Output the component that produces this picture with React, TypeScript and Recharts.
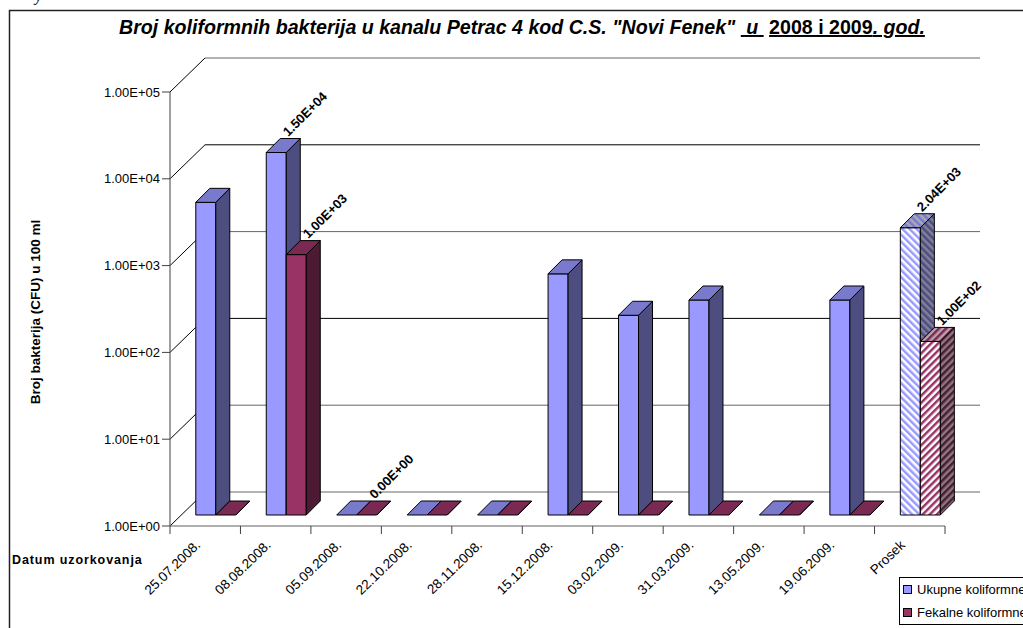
import { Bar, BarChart, CartesianGrid, LabelList, Legend, XAxis, YAxis } from "recharts";

const dates = [
  "25.07.2008.",
  "08.08.2008.",
  "05.09.2008.",
  "22.10.2008.",
  "28.11.2008.",
  "15.12.2008.",
  "03.02.2009.",
  "31.03.2009.",
  "13.05.2009.",
  "19.06.2009.",
  "Prosek",
];
const ukupne = [4000, 15000, 0, 0, 0, 600, 200, 300, 0, 300, 2040];
const fekalne = [0, 1000, 0, 0, 0, 0, 0, 0, 0, 0, 100];
const ukupneLabels = ["", "1.50E+04", "", "", "", "", "", "", "", "", "2.04E+03"];
const fekalneLabels = ["", "1.00E+03", "0.00E+00", "", "", "", "", "", "", "", "1.00E+02"];
const yTicks = [1, 10, 100, 1000, 10000, 100000];

const FONT = "'Liberation Sans', Arial, sans-serif";
const WIDTH = 1023;
const HEIGHT = 628;
const PLOT_LEFT = 170;
const PLOT_RIGHT = 945;

// fake 3D: wall depth and bar depth, bars sit half way into the floor
const WALL_DX = 35;
const WALL_DY = -34;
const BAR_OX = 11;
const BAR_OY = -11;
const BAR_DX = 14;
const BAR_DY = -14;

// log axis can't show 0, so zero samples are drawn flat on the floor
const tableData = dates.map((date, i) => ({
  date,
  ukupne: Math.max(ukupne[i], 1),
  fekalne: Math.max(fekalne[i], 1),
  ukupneLabel: ukupneLabels[i],
  fekalneLabel: fekalneLabels[i],
}));

function formatSci(value: number) {
  const exp = Math.round(Math.log10(value));
  return `1.00E+${String(exp).padStart(2, "0")}`;
}

const BLUE = { front: "#9999ff", side: "#4d4d80", top: "#7a7acc" };
const WINE = { front: "#993366", side: "#4d1a33", top: "#7a2952" };

function Bar3D(props: any) {
  const { x, y, width, height, index, colors, hatch } = props;
  const x0 = x + BAR_OX;
  const y0 = y + BAR_OY;
  const x1 = x0 + width;
  const y1 = y0 + height;
  const isAvg = dates[index] === "Prosek";
  const front = isAvg ? `url(#${hatch}-front)` : colors.front;
  const side = isAvg ? `url(#${hatch}-side)` : colors.side;
  const top = isAvg ? `url(#${hatch}-top)` : colors.top;
  return (
    <g stroke="#000" strokeWidth={1} strokeLinejoin="round">
      <rect x={x0} y={y0} width={width} height={height} fill={front} />
      <polygon
        points={`${x1},${y0} ${x1 + BAR_DX},${y0 + BAR_DY} ${x1 + BAR_DX},${y1 + BAR_DY} ${x1},${y1}`}
        fill={side}
      />
      <polygon
        points={`${x0},${y0} ${x0 + BAR_DX},${y0 + BAR_DY} ${x1 + BAR_DX},${y0 + BAR_DY} ${x1},${y0}`}
        fill={top}
      />
    </g>
  );
}

function WallLine(props: any) {
  const { x1, x2, y1, index } = props;
  // the source picture was resampled, some wall lines came out grey
  const stroke = index === 2 || index === 4 ? "#000" : "#666";
  return (
    <g key={`wall-${y1}`} fill="none">
      <line x1={x1} y1={y1} x2={x1 + WALL_DX} y2={y1 + WALL_DY} stroke="#000" />
      <line x1={x1 + WALL_DX} y1={y1 + WALL_DY} x2={x2 + WALL_DX} y2={y1 + WALL_DY} stroke={stroke} />
    </g>
  );
}

function DateTick(props: any) {
  const { x, y, index, payload } = props;
  const band = (PLOT_RIGHT - PLOT_LEFT) / dates.length;
  const left = x - band / 2;
  return (
    <g>
      <line x1={left} y1={y - 8} x2={left} y2={y} stroke="#404040" />
      {index === dates.length - 1 && <line x1={x + band / 2} y1={y - 8} x2={x + band / 2} y2={y} stroke="#404040" />}
      <text
        x={x - 4}
        y={y + 12}
        textAnchor="end"
        fontFamily={FONT}
        fontSize={13.5}
        fill="#000"
        transform={`rotate(-44 ${x - 4} ${y + 12})`}
      >
        {payload.value}
      </text>
    </g>
  );
}

function BarLabel(props: any) {
  const { x, y, width, height, value } = props;
  if (!value) return null;
  const px = x + BAR_OX + width + (height > 0 ? 2 : -2);
  const py = y + BAR_OY - 15.5;
  return (
    <text
      x={px}
      y={py}
      fontFamily={FONT}
      fontSize={13}
      fontWeight="bold"
      fill="#000"
      transform={`rotate(-45 ${px} ${py})`}
    >
      {value}
    </text>
  );
}

function LegendBox({ payload }: any) {
  return (
    <div
      style={{
        width: 170,
        height: 48,
        boxSizing: "border-box",
        border: "1px solid #000",
        borderRightWidth: 0,
        background: "#fff",
        fontFamily: FONT,
        fontSize: 13,
        color: "#000",
      }}
    >
      {(payload || []).map((item: any) => (
        <div key={item.value} style={{ display: "flex", alignItems: "center", height: 23, paddingLeft: 3, whiteSpace: "nowrap" }}>
          <span style={{ flex: "none", width: 7, height: 7, border: "1px solid #000", background: item.color, marginRight: 5 }} />
          {item.value}
        </div>
      ))}
    </div>
  );
}

function Stripes({ id, fg, bg, angle }: { id: string; fg: string; bg: string; angle: number }) {
  return (
    <pattern id={id} patternUnits="userSpaceOnUse" width={5} height={5} patternTransform={`rotate(${angle})`}>
      <rect width={5} height={5} fill={bg} />
      <rect width={2.5} height={5} fill={fg} />
    </pattern>
  );
}

export default function App() {
  return (
    <div style={{ position: "absolute", left: 0, top: 0, width: WIDTH, height: HEIGHT, overflow: "hidden", background: "#fff" }}>
      <BarChart
        width={WIDTH}
        height={HEIGHT}
        data={tableData}
        margin={{ top: 92, right: WIDTH - PLOT_RIGHT, bottom: 72, left: 110 }}
        barCategoryGap="21%"
        barGap={0}
      >
        <defs>
          <Stripes id="blue-front" fg="#9999ff" bg="#ffffff" angle={-45} />
          <Stripes id="blue-side" fg="#4d4d80" bg="#808099" angle={-45} />
          <Stripes id="blue-top" fg="#7a7acc" bg="#a8a8b8" angle={-45} />
          <Stripes id="wine-front" fg="#993366" bg="#ffffff" angle={45} />
          <Stripes id="wine-side" fg="#4d1a33" bg="#8a7a80" angle={45} />
          <Stripes id="wine-top" fg="#7a2952" bg="#b8a0ac" angle={45} />
        </defs>
        <CartesianGrid vertical={false} horizontal={(p: any) => <WallLine {...p} />} />
        <XAxis
          dataKey="date"
          height={30}
          interval={0}
          tickLine={false}
          axisLine={{ stroke: "#606060", strokeWidth: 1.2 }}
          tick={(p: any) => <DateTick {...p} y={526 + 8} />}
        />
        <YAxis
          scale="log"
          domain={[1, 100000]}
          ticks={yTicks}
          interval={0}
          width={60}
          tickSize={8}
          tickLine={{ stroke: "#404040" }}
          axisLine={{ stroke: "#606060", strokeWidth: 1.2 }}
          tickFormatter={formatSci}
          tick={{ fontFamily: FONT, fontSize: 13, fill: "#000" }}
        />
        <Legend
          layout="vertical"
          align="center"
          verticalAlign="middle"
          itemSorter={null}
          wrapperStyle={{ left: 899, top: 577, width: 170, bottom: "auto", right: "auto" }}
          content={<LegendBox />}
        />
        <Bar
          dataKey="ukupne"
          name="Ukupne koliformne bakterije"
          fill={BLUE.front}
          isAnimationActive={false}
          shape={(p: any) => <Bar3D {...p} colors={BLUE} hatch="blue" />}
        >
          <LabelList dataKey="ukupneLabel" content={<BarLabel />} />
        </Bar>
        <Bar
          dataKey="fekalne"
          name="Fekalne koliformne bakterije"
          fill={WINE.front}
          isAnimationActive={false}
          shape={(p: any) => <Bar3D {...p} colors={WINE} hatch="wine" />}
        >
          <LabelList dataKey="fekalneLabel" content={<BarLabel />} />
        </Bar>
        {/* frame, open on the right and bottom where the screenshot cuts it */}
        <polyline points={`9.5,${HEIGHT} 9.5,10.5 ${WIDTH},10.5`} fill="none" stroke="#222" strokeWidth={1.5} />
        <text x={35} y={1} fontFamily="'Liberation Serif', serif" fontStyle="italic" fontSize={16} fill="#000">
          y
        </text>
        <text x={119} y={34} fontFamily={FONT} fontSize={19.6} fontWeight="bold" fontStyle="italic" fill="#000" xmlSpace="preserve">
          <tspan>Broj koliformnih bakterija u kanalu Petrac 4 kod C.S. "Novi Fenek" </tspan>
          <tspan textDecoration="underline"> u </tspan>
          <tspan> </tspan>
          <tspan textDecoration="underline" fontStyle="normal">2008 i 2009</tspan>
          <tspan textDecoration="underline">. god.</tspan>
        </text>
        <text
          x={40}
          y={312}
          textAnchor="middle"
          fontFamily={FONT}
          fontSize={13.5}
          fontWeight="bold"
          fill="#000"
          transform="rotate(-90 40 312)"
        >
          Broj bakterija (CFU) u 100 ml
        </text>
        <text x={12} y={564} fontFamily={FONT} fontSize={12.5} fontWeight="bold" letterSpacing={0.9} fill="#000">
          Datum uzorkovanja
        </text>
      </BarChart>
    </div>
  );
}
